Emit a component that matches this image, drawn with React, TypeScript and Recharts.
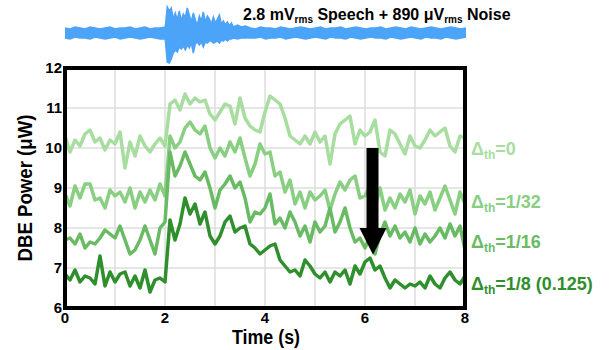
import React from 'react';
import {
  LineChart, Line, XAxis, YAxis, CartesianGrid, ReferenceArea,
  AreaChart, Area,
} from 'recharts';

// ---------- main chart data (t = 0 .. 8 s, step 0.1 s) ----------
const DBE_TH_0 = [
  10.3, 9.9, 10.2, 10.05, 10.35, 10.45, 10.15, 10.25, 9.95, 10.2,
  10.1, 10.4, 9.5, 10.15, 9.8, 10.3, 10.05, 9.9, 10.1, 10.25,
  10.05, 11.1, 11.2, 10.95, 11.35, 11.1, 11.25, 11.15, 11.2, 10.85,
  10.7, 10.9, 11.1, 11.05, 10.6, 11.25, 10.75, 10.55, 10.45, 10.4,
  10.9, 11.3, 11.2, 11.1, 10.75, 10.3, 10.2, 10.1, 10.3, 10.1,
  10.4, 10.15, 10.3, 9.6, 10.35, 10.6, 10.7, 10.8, 10.1, 10.45,
  10.3, 10.4, 10.7, 9.9, 9.8, 10.45, 10.35, 10.1, 9.85, 10.3,
  10.05, 10.0, 10.2, 10.45, 10.3, 10.4, 10.5, 10.05, 9.9, 10.3,
  10.25,
];
const DBE_TH_1_32 = [
  8.85, 8.55, 9.05, 8.75, 9.1, 9.1, 8.7, 8.75, 8.5, 8.95,
  8.8, 8.9, 8.65, 9.0, 8.5, 8.9, 8.65, 8.95, 8.7, 9.1,
  8.8, 10.3, 10.0, 10.15, 10.5, 10.65, 10.45, 10.35, 10.55, 10.0,
  9.75, 10.0, 9.8, 10.15, 9.9, 10.25, 9.75, 9.3, 9.6, 10.1,
  9.85, 9.9, 9.3, 9.4, 8.9, 9.2, 8.6, 8.9, 8.5, 8.9,
  8.7, 8.8, 8.95, 8.45, 8.85, 9.15, 8.95, 9.2, 9.3, 8.75,
  8.8, 9.05, 8.5, 9.0, 8.45, 8.75, 8.5, 8.85, 8.65, 8.95,
  8.35, 8.8, 8.6, 8.9, 8.45, 8.75, 9.05, 8.7, 8.35, 8.9,
  8.6,
];
const DBE_TH_1_16 = [
  7.7, 7.75, 7.6, 7.85, 7.5, 7.65, 7.6, 7.75, 7.95, 7.85,
  7.75, 8.05, 7.7, 7.35, 7.45, 7.7, 8.05, 7.7, 7.35, 8.0,
  8.15, 9.9, 9.3, 9.55, 9.9, 9.6, 9.3, 9.2, 9.4, 9.0,
  8.5, 8.95, 9.1, 9.3, 9.0, 9.15, 8.75, 8.15, 8.4, 8.35,
  8.5, 8.85, 8.1, 8.25, 8.0, 8.4, 8.15, 7.8, 8.05, 7.65,
  8.15, 7.9, 8.05, 8.5, 7.9, 8.15, 8.5, 8.0, 7.65, 7.75,
  7.5, 7.8, 7.35, 7.85, 8.15, 7.8, 8.05, 7.75, 7.9, 7.65,
  8.0, 7.6, 7.85, 7.65, 7.8, 8.0, 7.75, 8.1, 7.8, 8.05,
  7.45,
];
const DBE_TH_1_8 = [
  6.85, 6.7, 6.95, 6.65, 6.8, 6.75, 6.6, 7.3, 6.55, 6.9,
  6.65, 6.85, 6.9, 6.55, 6.8, 6.5, 6.95, 6.4, 6.7, 6.75,
  6.65, 8.2, 7.7, 8.1, 8.75, 8.35, 8.6, 8.1, 8.4, 7.8,
  7.6, 7.8, 8.15, 8.3, 7.9, 8.0, 8.05, 7.6, 7.5, 7.35,
  7.45, 7.55, 7.6, 7.2, 7.05, 6.9, 6.95, 6.8, 7.2, 7.05,
  6.85, 6.75, 6.9, 6.65, 6.9, 6.8, 6.95, 6.6, 7.05, 6.85,
  7.15, 7.25, 6.95, 7.05, 6.75, 6.5, 6.7, 6.6, 6.5, 6.6,
  6.55, 6.65, 6.5, 6.8, 6.6, 6.5, 6.75, 6.9, 6.7, 6.6,
  6.8,
];
const SAMPLE_STEP_S = 0.1;
const X_TICKS = [0, 1, 2, 3, 4, 5, 6, 7, 8];
const X_LABELED = [0, 2, 4, 6, 8];
const Y_TICKS = [6, 7, 8, 9, 10, 11, 12];

// arrow (data coordinates)
const ARROW_X = [6.03, 6.27];
const ARROW_HEAD_X = [5.89, 6.43];
const ARROW_Y = [7.99, 10.0];
const ARROW_HEAD_Y = [7.33, 8.0];

// ---------- waveform envelope (arbitrary units) ----------
const NOISE_PRE_HI = [5, 4, 6, 5, 4, 6, 5, 4, 5, 6, 4, 5, 5, 6, 4, 5, 6, 4, 5, 5];
const NOISE_PRE_LO = [-5, -6, -4, -5, -5, -6, -4, -5, -6, -5, -4, -6, -5, -4, -5, -6, -5, -4, -5, -6];
const SPEECH_T = [
  2.0, 2.04, 2.08, 2.12, 2.16, 2.2, 2.24, 2.28, 2.32, 2.36,
  2.4, 2.44, 2.48, 2.52, 2.56, 2.6, 2.64, 2.68, 2.72, 2.76,
  2.8, 2.84, 2.88, 2.92, 2.96, 3.0, 3.04, 3.08, 3.12, 3.16,
  3.2, 3.24, 3.28, 3.32, 3.36, 3.44, 3.52, 3.6,
];
const SPEECH_HI = [
  6, 26, 22, 25, 14, 20, 13, 22, 12, 19,
  16, 25, 18, 11, 20, 13, 8, 17, 12, 21,
  11, 17, 14, 9, 16, 10, 14, 18, 9, 12,
  8, 11, 7, 10, 6, 8, 6, 7,
];
const SPEECH_LO = [
  -6, -29, -30, -26, -20, -17, -19, -14, -16, -13,
  -17, -12, -15, -10, -20, -11, -9, -12, -9, -14,
  -9, -10, -8, -8, -10, -9, -8, -10, -7, -8,
  -6, -8, -6, -6, -5, -6, -5, -5,
];
const NOISE_POST_START = 3.7;
const NOISE_POST_HI = [
  5, 4, 6, 5, 5, 4, 6, 5, 4, 5, 6, 5, 4, 5, 6, 4, 5, 5, 6, 4, 5, 6,
  5, 4, 5, 5, 6, 4, 5, 6, 5, 4, 6, 5, 4, 5, 6, 5, 4, 5, 6, 5, 4, 5,
];
const NOISE_POST_LO = [
  -5, -5, -4, -6, -5, -5, -4, -6, -5, -4, -5, -6, -5, -4, -5, -6, -4, -5, -5, -6, -4, -5,
  -6, -5, -4, -5, -5, -6, -4, -5, -6, -5, -4, -5, -6, -4, -5, -5, -6, -4, -5, -6, -5, -4,
];

const COLORS = ['#a8dda0', '#88cf82', '#69bb63', '#2f8f2c'];
const WAVE_COLOR = '#4ba4f7';
const FONT = "'Liberation Sans', Arial, sans-serif";

const rows = DBE_TH_0.map((v, i) => ({
  t: Math.round(i * SAMPLE_STEP_S * 100) / 100,
  a: v,
  b: DBE_TH_1_32[i],
  c: DBE_TH_1_16[i],
  d: DBE_TH_1_8[i],
}));

const waveRows = [
  ...NOISE_PRE_HI.map((h, i) => ({ t: i * SAMPLE_STEP_S, range: [NOISE_PRE_LO[i], h] })),
  ...SPEECH_T.map((t, i) => ({ t, range: [SPEECH_LO[i], SPEECH_HI[i]] })),
  ...NOISE_POST_HI.map((h, i) => ({ t: NOISE_POST_START + i * SAMPLE_STEP_S, range: [NOISE_POST_LO[i], h] })),
];

const tickStyle = { fill: '#000', fontSize: 15, fontWeight: 700, fontFamily: FONT };

const ArrowHead = (p: any) => {
  const { x, y, width, height } = p;
  return <polygon points={`${x},${y} ${x + width},${y} ${x + width / 2},${y + height}`} fill="#000" />;
};

const SeriesLabel = ({ x, y, color, rest }: { x: number; y: number; color: string; rest: string }) => (
  <text x={x} y={y} fill={color} fontFamily={FONT} fontWeight={700} fontSize={18}>
    Δ<tspan fontSize={12} dy={4}>th</tspan><tspan dy={-4}>{rest}</tspan>
  </text>
);

const MARGIN_MAIN = { top: 68, right: 146, bottom: 22, left: 45 };

export default function App() {
  return (
    <div style={{ position: 'absolute', left: 0, top: 0, width: 611, height: 350, background: '#fff' }}>
      <div style={{ position: 'absolute', left: 0, top: 0 }}>
        <AreaChart width={611} height={70} data={waveRows} margin={{ top: 3, right: 145, bottom: 7, left: 65 }}>
          <XAxis dataKey="t" type="number" domain={[0, 8]} hide />
          <YAxis type="number" domain={[-30, 30]} hide />
          <Area type="linear" dataKey="range" stroke={WAVE_COLOR} strokeWidth={1.5} fill={WAVE_COLOR} fillOpacity={1} isAnimationActive={false} dot={false} />
        </AreaChart>
      </div>
      <div style={{ position: 'absolute', left: 0, top: 0 }}>
        <LineChart width={611} height={350} data={rows} margin={MARGIN_MAIN}>
          <CartesianGrid stroke="#dedede" strokeWidth={1.5} />
          <XAxis
            dataKey="t" type="number" domain={[0, 8]} ticks={X_TICKS} interval={0}
            tickFormatter={(v: number) => (X_LABELED.includes(v) ? String(v) : '')}
            axisLine={false} tickLine={false} tickSize={0} tickMargin={4} height={20} tick={tickStyle}
          />
          <YAxis
            type="number" domain={[6, 12]} ticks={Y_TICKS} interval={0}
            axisLine={false} tickLine={false} tickSize={0} tickMargin={3} width={20} tick={tickStyle}
          />
          <Line type="linear" dataKey="a" stroke={COLORS[0]} strokeWidth={3.5} dot={false} isAnimationActive={false} strokeLinejoin="round" />
          <Line type="linear" dataKey="b" stroke={COLORS[1]} strokeWidth={3.5} dot={false} isAnimationActive={false} strokeLinejoin="round" />
          <Line type="linear" dataKey="c" stroke={COLORS[2]} strokeWidth={3.5} dot={false} isAnimationActive={false} strokeLinejoin="round" />
          <Line type="linear" dataKey="d" stroke={COLORS[3]} strokeWidth={3.5} dot={false} isAnimationActive={false} strokeLinejoin="round" />
        </LineChart>
      </div>
      <div style={{ position: 'absolute', left: 0, top: 0 }}>
        <LineChart width={611} height={350} data={rows} margin={MARGIN_MAIN}>
          <XAxis dataKey="t" type="number" domain={[0, 8]} ticks={X_TICKS} height={20} tick={false} axisLine={false} tickLine={false} />
          <YAxis type="number" domain={[6, 12]} ticks={Y_TICKS} width={20} tick={false} axisLine={false} tickLine={false} />
          <Line type="linear" dataKey="d" stroke="none" strokeOpacity={0} dot={false} isAnimationActive={false} />
          <ReferenceArea x1={ARROW_X[0]} x2={ARROW_X[1]} y1={ARROW_Y[0]} y2={ARROW_Y[1]} fill="#000" fillOpacity={1} stroke="none" />
          <ReferenceArea x1={ARROW_HEAD_X[0]} x2={ARROW_HEAD_X[1]} y1={ARROW_HEAD_Y[0]} y2={ARROW_HEAD_Y[1]} shape={ArrowHead} />
          <ReferenceArea x1={0} x2={8} y1={6} y2={12} fill="none" stroke="#000" strokeWidth={4} />
        </LineChart>
      </div>
      <svg width={611} height={350} style={{ position: 'absolute', left: 0, top: 0, pointerEvents: 'none' }}>
        <text x={243} y={20} fontFamily={FONT} fontWeight={700} fontSize={16} fill="#000">
          2.8 mV<tspan fontSize={10} dy={3}>rms</tspan><tspan dy={-3}> Speech + 890 μV</tspan><tspan fontSize={10} dy={3}>rms</tspan><tspan dy={-3}> Noise</tspan>
        </text>
        <text x={24} y={188} transform="rotate(-90 24 188)" textAnchor="middle" dominantBaseline="central" fontFamily={FONT} fontWeight={700} fontSize={21} fill="#000" textLength={147} lengthAdjust="spacingAndGlyphs">
          DBE Power (μW)
        </text>
        <text x={266} y={344} textAnchor="middle" fontFamily={FONT} fontWeight={700} fontSize={20} fill="#000" textLength={68} lengthAdjust="spacingAndGlyphs">
          Time (s)
        </text>
        <SeriesLabel x={471} y={155} color={COLORS[0]} rest="=0" />
        <SeriesLabel x={471} y={208} color={COLORS[1]} rest="=1/32" />
        <SeriesLabel x={471} y={248} color={COLORS[2]} rest="=1/16" />
        <SeriesLabel x={471} y={290} color={COLORS[3]} rest="=1/8 (0.125)" />
      </svg>
    </div>
  );
}
